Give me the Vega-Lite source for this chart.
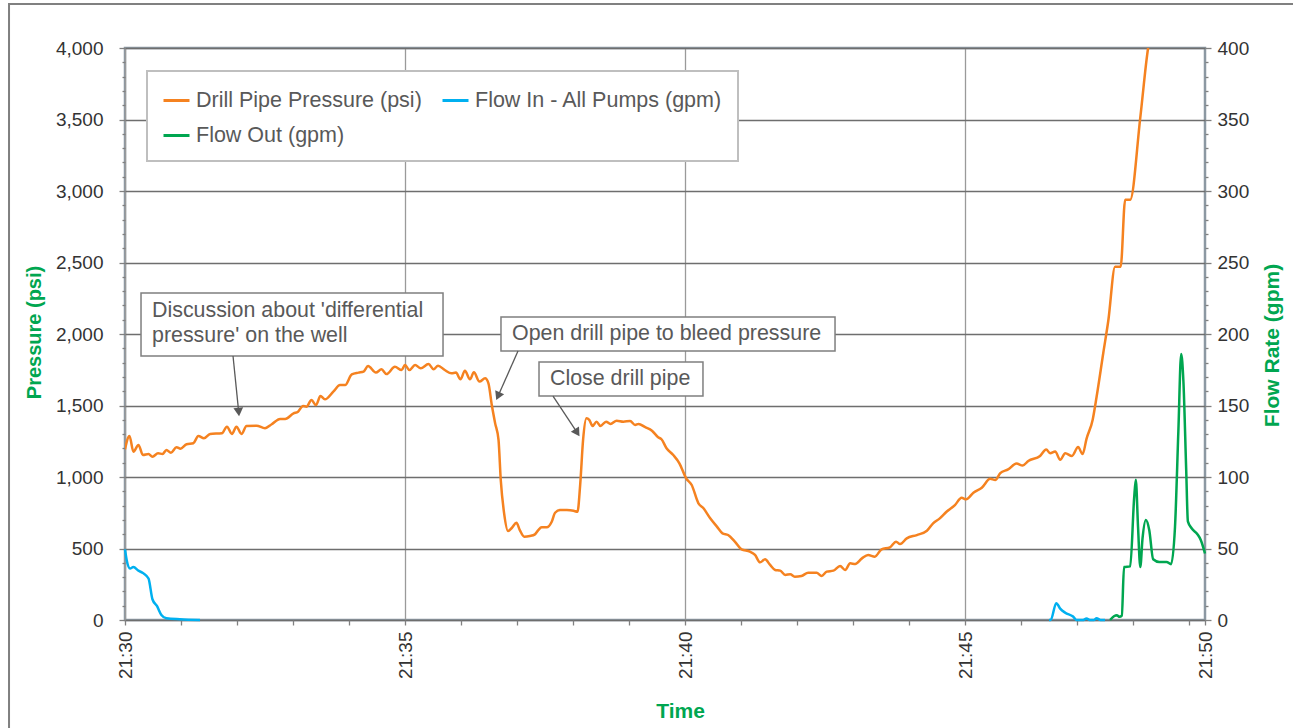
{
  "$schema": "https://vega.github.io/schema/vega-lite/v6.json",
  "width": 1080,
  "height": 572,
  "autosize": {"type": "none"},
  "padding": {"left": 125, "top": 48, "right": 88, "bottom": 108},
  "background": "white",
  "config": {
    "view": {"stroke": "#8c98a2", "strokeWidth": 2.5},
    "font": "Liberation Sans",
    "axis": {
      "labelFont": "Liberation Sans",
      "labelFontSize": 19,
      "labelColor": "#333333",
      "tickColor": "#808080",
      "tickWidth": 1.3,
      "domain": false,
      "titleFont": "Liberation Sans",
      "titleFontWeight": "bold",
      "titleColor": "#00a650",
      "titleFontSize": 21
    },
    "legend": {"strokeWidth": 2}
  },
  "datasets": {
    "pressure": [
      {"t":0,"psi":1194},{"t":0.08,"psi":1287},{"t":0.15,"psi":1177},{"t":0.24,"psi":1224},{"t":0.32,"psi":1154},{"t":0.42,"psi":1161},{"t":0.49,"psi":1142},{"t":0.59,"psi":1166},{"t":0.67,"psi":1161},{"t":0.74,"psi":1189},{"t":0.82,"psi":1170},{"t":0.92,"psi":1208},{"t":0.99,"psi":1198},{"t":1.10,"psi":1229},{"t":1.22,"psi":1236},{"t":1.31,"psi":1287},{"t":1.41,"psi":1271},{"t":1.52,"psi":1301},{"t":1.73,"psi":1306},{"t":1.82,"psi":1352},{"t":1.91,"psi":1301},{"t":1.99,"psi":1352},{"t":2.08,"psi":1301},{"t":2.17,"psi":1357},{"t":2.35,"psi":1359},{"t":2.50,"psi":1341},{"t":2.62,"psi":1369},{"t":2.77,"psi":1406},{"t":2.86,"psi":1406},{"t":3.01,"psi":1445},{"t":3.09,"psi":1457},{"t":3.18,"psi":1497},{"t":3.24,"psi":1492},{"t":3.33,"psi":1538},{"t":3.41,"psi":1503},{"t":3.49,"psi":1566},{"t":3.57,"psi":1543},{"t":3.72,"psi":1597},{"t":3.84,"psi":1643},{"t":3.93,"psi":1643},{"t":4.05,"psi":1718},{"t":4.17,"psi":1730},{"t":4.26,"psi":1737},{"t":4.34,"psi":1776},{"t":4.48,"psi":1730},{"t":4.58,"psi":1753},{"t":4.67,"psi":1720},{"t":4.82,"psi":1771},{"t":4.94,"psi":1748},{"t":5.00,"psi":1783},{"t":5.08,"psi":1748},{"t":5.18,"psi":1783},{"t":5.28,"psi":1760},{"t":5.42,"psi":1790},{"t":5.51,"psi":1753},{"t":5.59,"psi":1778},{"t":5.71,"psi":1748},{"t":5.83,"psi":1725},{"t":5.91,"psi":1730},{"t":5.99,"psi":1683},{"t":6.07,"psi":1743},{"t":6.16,"psi":1683},{"t":6.23,"psi":1732},{"t":6.33,"psi":1667},{"t":6.43,"psi":1690},{"t":6.49,"psi":1655},{"t":6.55,"psi":1503},{"t":6.61,"psi":1375},{"t":6.67,"psi":1259},{"t":6.71,"psi":979},{"t":6.77,"psi":746},{"t":6.84,"psi":622},{"t":6.91,"psi":645},{"t":6.99,"psi":680},{"t":7.05,"psi":629},{"t":7.13,"psi":582},{"t":7.23,"psi":587},{"t":7.32,"psi":599},{"t":7.38,"psi":629},{"t":7.44,"psi":648},{"t":7.53,"psi":648},{"t":7.62,"psi":687},{"t":7.68,"psi":750},{"t":7.77,"psi":769},{"t":7.89,"psi":769},{"t":8.01,"psi":764},{"t":8.08,"psi":757},{"t":8.13,"psi":956},{"t":8.18,"psi":1259},{"t":8.24,"psi":1410},{"t":8.29,"psi":1399},{"t":8.35,"psi":1357},{"t":8.42,"psi":1387},{"t":8.49,"psi":1357},{"t":8.59,"psi":1387},{"t":8.67,"psi":1371},{"t":8.78,"psi":1394},{"t":8.90,"psi":1387},{"t":9.02,"psi":1392},{"t":9.11,"psi":1364},{"t":9.17,"psi":1371},{"t":9.29,"psi":1348},{"t":9.41,"psi":1324},{"t":9.52,"psi":1278},{"t":9.58,"psi":1264},{"t":9.67,"psi":1201},{"t":9.79,"psi":1154},{"t":9.90,"psi":1096},{"t":10.02,"psi":991},{"t":10.12,"psi":944},{"t":10.24,"psi":816},{"t":10.33,"psi":781},{"t":10.45,"psi":711},{"t":10.57,"psi":653},{"t":10.67,"psi":606},{"t":10.77,"psi":594},{"t":10.89,"psi":548},{"t":11.01,"psi":494},{"t":11.16,"psi":478},{"t":11.25,"psi":455},{"t":11.34,"psi":403},{"t":11.43,"psi":424},{"t":11.52,"psi":385},{"t":11.61,"psi":350},{"t":11.70,"psi":345},{"t":11.79,"psi":315},{"t":11.88,"psi":320},{"t":11.96,"psi":303},{"t":12.08,"psi":308},{"t":12.20,"psi":331},{"t":12.35,"psi":331},{"t":12.44,"psi":308},{"t":12.53,"psi":338},{"t":12.65,"psi":345},{"t":12.77,"psi":378},{"t":12.86,"psi":350},{"t":12.95,"psi":396},{"t":13.04,"psi":392},{"t":13.16,"psi":431},{"t":13.27,"psi":455},{"t":13.39,"psi":443},{"t":13.51,"psi":494},{"t":13.66,"psi":508},{"t":13.77,"psi":548},{"t":13.84,"psi":531},{"t":13.96,"psi":571},{"t":14.14,"psi":594},{"t":14.32,"psi":624},{"t":14.43,"psi":676},{"t":14.55,"psi":711},{"t":14.67,"psi":757},{"t":14.82,"psi":804},{"t":14.94,"psi":855},{"t":15.02,"psi":844},{"t":15.15,"psi":890},{"t":15.30,"psi":925},{"t":15.45,"psi":987},{"t":15.54,"psi":979},{"t":15.63,"psi":1027},{"t":15.77,"psi":1053},{"t":15.92,"psi":1094},{"t":16.03,"psi":1080},{"t":16.13,"psi":1112},{"t":16.34,"psi":1147},{"t":16.45,"psi":1193},{"t":16.52,"psi":1166},{"t":16.61,"psi":1179},{"t":16.70,"psi":1120},{"t":16.79,"psi":1166},{"t":16.91,"psi":1147},{"t":17.02,"psi":1209},{"t":17.10,"psi":1160},{"t":17.17,"psi":1267},{"t":17.28,"psi":1401},{"t":17.35,"psi":1561},{"t":17.47,"psi":1869},{"t":17.56,"psi":2096},{"t":17.68,"psi":2471},{"t":17.78,"psi":2471},{"t":17.86,"psi":2939},{"t":17.95,"psi":2939},{"t":18.13,"psi":3513},{"t":18.27,"psi":4000},{"t":18.34,"psi":4140}
    ],
    "flows": [
      {"t":0,"gpm":49.4,"series":"Flow In - All Pumps (gpm)","seg":"a"},{"t":0.03,"gpm":42,"series":"Flow In - All Pumps (gpm)","seg":"a"},{"t":0.09,"gpm":36,"series":"Flow In - All Pumps (gpm)","seg":"a"},{"t":0.15,"gpm":37,"series":"Flow In - All Pumps (gpm)","seg":"a"},{"t":0.24,"gpm":34.5,"series":"Flow In - All Pumps (gpm)","seg":"a"},{"t":0.33,"gpm":32.6,"series":"Flow In - All Pumps (gpm)","seg":"a"},{"t":0.42,"gpm":29,"series":"Flow In - All Pumps (gpm)","seg":"a"},{"t":0.49,"gpm":14.5,"series":"Flow In - All Pumps (gpm)","seg":"a"},{"t":0.57,"gpm":9.8,"series":"Flow In - All Pumps (gpm)","seg":"a"},{"t":0.65,"gpm":3.5,"series":"Flow In - All Pumps (gpm)","seg":"a"},{"t":0.74,"gpm":1.2,"series":"Flow In - All Pumps (gpm)","seg":"a"},{"t":0.98,"gpm":0.5,"series":"Flow In - All Pumps (gpm)","seg":"a"},{"t":1.34,"gpm":0,"series":"Flow In - All Pumps (gpm)","seg":"a"},
      {"t":16.50,"gpm":0,"series":"Flow In - All Pumps (gpm)","seg":"b"},{"t":16.53,"gpm":0,"series":"Flow In - All Pumps (gpm)","seg":"b"},{"t":16.63,"gpm":11.8,"series":"Flow In - All Pumps (gpm)","seg":"b"},{"t":16.70,"gpm":8,"series":"Flow In - All Pumps (gpm)","seg":"b"},{"t":16.79,"gpm":5.1,"series":"Flow In - All Pumps (gpm)","seg":"b"},{"t":16.93,"gpm":2.4,"series":"Flow In - All Pumps (gpm)","seg":"b"},{"t":16.99,"gpm":0,"series":"Flow In - All Pumps (gpm)","seg":"b"},{"t":17.10,"gpm":0,"series":"Flow In - All Pumps (gpm)","seg":"b"},{"t":17.17,"gpm":1,"series":"Flow In - All Pumps (gpm)","seg":"b"},{"t":17.24,"gpm":0,"series":"Flow In - All Pumps (gpm)","seg":"b"},{"t":17.30,"gpm":0,"series":"Flow In - All Pumps (gpm)","seg":"b"},{"t":17.35,"gpm":1.2,"series":"Flow In - All Pumps (gpm)","seg":"b"},{"t":17.42,"gpm":0,"series":"Flow In - All Pumps (gpm)","seg":"b"},{"t":17.50,"gpm":0,"series":"Flow In - All Pumps (gpm)","seg":"b"},
      {"t":17.59,"gpm":0,"series":"Flow Out (gpm)","seg":"c"},{"t":17.66,"gpm":2.6,"series":"Flow Out (gpm)","seg":"c"},{"t":17.71,"gpm":3.4,"series":"Flow Out (gpm)","seg":"c"},{"t":17.76,"gpm":2.2,"series":"Flow Out (gpm)","seg":"c"},{"t":17.80,"gpm":3,"series":"Flow Out (gpm)","seg":"c"},{"t":17.84,"gpm":37,"series":"Flow Out (gpm)","seg":"c"},{"t":17.95,"gpm":37.5,"series":"Flow Out (gpm)","seg":"c"},{"t":18.02,"gpm":85,"series":"Flow Out (gpm)","seg":"c"},{"t":18.05,"gpm":98,"series":"Flow Out (gpm)","seg":"c"},{"t":18.09,"gpm":65,"series":"Flow Out (gpm)","seg":"c"},{"t":18.13,"gpm":37,"series":"Flow Out (gpm)","seg":"c"},{"t":18.17,"gpm":57,"series":"Flow Out (gpm)","seg":"c"},{"t":18.23,"gpm":70,"series":"Flow Out (gpm)","seg":"c"},{"t":18.29,"gpm":63,"series":"Flow Out (gpm)","seg":"c"},{"t":18.36,"gpm":42.5,"series":"Flow Out (gpm)","seg":"c"},{"t":18.47,"gpm":40.6,"series":"Flow Out (gpm)","seg":"c"},{"t":18.60,"gpm":40.6,"series":"Flow Out (gpm)","seg":"c"},{"t":18.68,"gpm":39,"series":"Flow Out (gpm)","seg":"c"},{"t":18.75,"gpm":65,"series":"Flow Out (gpm)","seg":"c"},{"t":18.81,"gpm":132,"series":"Flow Out (gpm)","seg":"c"},{"t":18.86,"gpm":186,"series":"Flow Out (gpm)","seg":"c"},{"t":18.90,"gpm":167,"series":"Flow Out (gpm)","seg":"c"},{"t":18.95,"gpm":105,"series":"Flow Out (gpm)","seg":"c"},{"t":18.98,"gpm":69,"series":"Flow Out (gpm)","seg":"c"},{"t":19.05,"gpm":64,"series":"Flow Out (gpm)","seg":"c"},{"t":19.15,"gpm":60,"series":"Flow Out (gpm)","seg":"c"},{"t":19.21,"gpm":56,"series":"Flow Out (gpm)","seg":"c"},{"t":19.2857,"gpm":46.5,"series":"Flow Out (gpm)","seg":"c"}
    ],
    "boxes": [
      {"t1":0.286,"t2":5.679,"p1":1846,"p2":2287},
      {"t1":6.714,"t2":12.679,"p1":1881,"p2":2119},
      {"t1":7.393,"t2":10.321,"p1":1566,"p2":1804}
    ],
    "notes": [
      {"t":0.482,"psi":2161,"text":"Discussion about 'differential"},
      {"t":0.482,"psi":1986,"text":"pressure' on the well"},
      {"t":6.911,"psi":2000,"text":"Open drill pipe to bleed pressure"},
      {"t":7.589,"psi":1685,"text":"Close drill pipe"}
    ],
    "arrows": [
      {"t":1.929,"psi":1846,"t2":2.03,"psi2":1455,"angle":-5.5},
      {"t":7.018,"psi":1881,"t2":6.66,"psi2":1565,"angle":24},
      {"t":7.643,"psi":1566,"t2":8.075,"psi2":1310,"angle":-33}
    ]
  },
  "layer": [
    {
      "data": {"name": "pressure"},
      "mark": {"type": "line", "strokeWidth": 2.5, "clip": true, "interpolate": "monotone"},
      "encoding": {
        "x": {
          "field": "t", "type": "quantitative",
          "scale": {"domain": [0, 19.2857], "nice": false, "zero": false},
          "axis": {
            "title": "Time",
            "values": [0,1,2,3,4,5,6,7,8,9,10,11,12,13,14,15,16,17,18,19,19.2857],
            "labelExpr": "datum.value > 19.1 ? '21:50' : (datum.value % 5 === 0 ? '21:' + (30 + datum.value) : '')",
            "labelAngle": 270, "labelAlign": "right", "labelBaseline": "middle",
            "labelPadding": 6, "labelOverlap": false, "labelFlush": false, "labelBound": false,
            "tickSize": 5,
            "grid": true, "gridColor": "#9a9a9a", "gridWidth": 1.3,
            "gridOpacity": {"condition": {"test": "datum.value % 5 === 0", "value": 1}, "value": 0},
            "titleX": 555, "titleY": 91, "titleAlign": "center", "titleBaseline": "middle", "titleFontSize": 21
          }
        },
        "y": {
          "field": "psi", "type": "quantitative",
          "scale": {"domain": [0, 4000], "nice": false},
          "axis": {
            "title": "Pressure (psi)",
            "values": [0,100,200,300,400,500,600,700,800,900,1000,1100,1200,1300,1400,1500,1600,1700,1800,1900,2000,2100,2200,2300,2400,2500,2600,2700,2800,2900,3000,3100,3200,3300,3400,3500,3600,3700,3800,3900,4000],
            "labelExpr": "datum.value % 500 === 0 ? format(datum.value, ',') : ''",
            "tickSize": {"condition": {"test": "datum.value % 500 === 0", "value": 6}, "value": 3},
            "labelPadding": 16, "labelOverlap": false, "labelFlush": false,
            "grid": true, "gridColor": "#6e6e6e", "gridWidth": 1.3,
            "gridOpacity": {"condition": {"test": "datum.value % 500 === 0", "value": 1}, "value": 0},
            "titleAngle": 270, "titleX": -91, "titleY": 284, "titleAlign": "center", "titleBaseline": "middle", "titleFontSize": 20
          }
        },
        "color": {
          "datum": "Drill Pipe Pressure (psi)", "type": "nominal",
          "scale": {
            "domain": ["Drill Pipe Pressure (psi)", "Flow In - All Pumps (gpm)", "Flow Out (gpm)"],
            "range": ["#f58220", "#00b0f0", "#00a650"]
          },
          "legend": {
            "orient": "none", "legendX": 22, "legendY": 23, "columns": 2, "direction": "horizontal",
            "title": null, "symbolType": "stroke", "symbolStrokeWidth": 3, "symbolSize": 676,
            "labelFont": "Liberation Sans", "labelFontSize": 21.5, "labelColor": "#595959",
            "labelLimit": 400, "labelOffset": 5, "padding": 15,
            "strokeColor": "#bfbfbf", "fillColor": "white",
            "rowPadding": 10, "columnPadding": 14
          }
        }
      }
    },
    {
      "data": {"name": "flows"},
      "mark": {"type": "line", "strokeWidth": 2.5, "interpolate": "monotone"},
      "encoding": {
        "x": {"field": "t", "type": "quantitative"},
        "y": {
          "field": "gpm", "type": "quantitative",
          "scale": {"domain": [0, 400], "nice": false},
          "axis": {
            "orient": "right",
            "title": "Flow Rate (gpm)",
            "values": [0,10,20,30,40,50,60,70,80,90,100,110,120,130,140,150,160,170,180,190,200,210,220,230,240,250,260,270,280,290,300,310,320,330,340,350,360,370,380,390,400],
            "labelExpr": "datum.value % 50 === 0 ? format(datum.value, ',') : ''",
            "tickSize": {"condition": {"test": "datum.value % 50 === 0", "value": 6}, "value": 3},
            "labelPadding": 6, "labelOverlap": false, "labelFlush": false,
            "grid": false,
            "titleAngle": 270, "titleX": 67, "titleY": 297, "titleAlign": "center", "titleBaseline": "middle"
          }
        },
        "color": {"field": "series", "type": "nominal", "title": null},
        "detail": {"field": "seg"}
      }
    },
    {
      "data": {"name": "boxes"},
      "mark": {"type": "rect", "fill": "white", "stroke": "#7f7f7f", "strokeWidth": 1.5},
      "encoding": {
        "x": {"field": "t1", "type": "quantitative"},
        "x2": {"field": "t2"},
        "y": {"field": "p1", "type": "quantitative", "scale": {"domain": [0, 4000], "nice": false}, "axis": null},
        "y2": {"field": "p2"}
      }
    },
    {
      "data": {"name": "notes"},
      "mark": {"type": "text", "align": "left", "baseline": "middle", "font": "Liberation Sans", "fontSize": 21.4, "color": "#595959"},
      "encoding": {
        "x": {"field": "t", "type": "quantitative"},
        "y": {"field": "psi", "type": "quantitative", "scale": {"domain": [0, 4000], "nice": false}, "axis": null},
        "text": {"field": "text"}
      }
    },
    {
      "data": {"name": "arrows"},
      "mark": {"type": "rule", "color": "#595959", "strokeWidth": 1.3},
      "encoding": {
        "x": {"field": "t", "type": "quantitative"},
        "y": {"field": "psi", "type": "quantitative", "scale": {"domain": [0, 4000], "nice": false}, "axis": null},
        "x2": {"field": "t2"},
        "y2": {"field": "psi2"}
      }
    },
    {
      "data": {"name": "arrows"},
      "mark": {"type": "point", "shape": "triangle-down", "filled": true, "size": 95, "color": "#595959", "opacity": 1},
      "encoding": {
        "x": {"field": "t2", "type": "quantitative"},
        "y": {"field": "psi2", "type": "quantitative", "scale": {"domain": [0, 4000], "nice": false}, "axis": null},
        "angle": {"field": "angle", "type": "quantitative", "scale": null}
      }
    },
    {
      "data": {"values": [{}]},
      "mark": {"type": "rect", "fill": "white", "fillOpacity": 0, "stroke": "#808080", "strokeWidth": 2},
      "encoding": {
        "x": {"datum": -2.071, "type": "quantitative"},
        "x2": {"datum": 21.2},
        "y": {"datum": 4308, "type": "quantitative", "scale": {"domain": [0, 4000], "nice": false}, "axis": null},
        "y2": {"datum": -900}
      }
    }
  ],
  "resolve": {"scale": {"y": "independent"}}
}
